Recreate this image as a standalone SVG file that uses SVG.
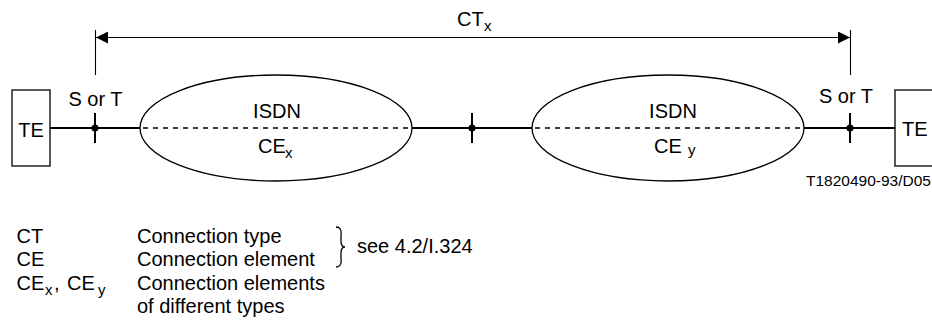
<svg xmlns="http://www.w3.org/2000/svg" width="932" height="324" viewBox="0 0 932 324">
<style>
text{font-family:"Liberation Sans",Arial,sans-serif;font-size:20px;fill:#000}
.sub{font-size:15px}
.small{font-size:15.5px}
.thick{stroke:#000;stroke-width:2;fill:none}
.thin{stroke:#000;stroke-width:1.1;fill:none}
.ell{stroke:#000;stroke-width:1.3;fill:#fff}
.dash{stroke:#000;stroke-width:1.5;stroke-dasharray:5 5;fill:none}
</style>
<defs>
<marker id="ah" viewBox="0 0 12 12" refX="12" refY="6" markerWidth="12" markerHeight="12" markerUnits="userSpaceOnUse" orient="auto-start-reverse">
<path d="M0,0 L12,6 L0,12 Z" fill="#000"/>
</marker>
</defs>
<rect width="932" height="324" fill="#fff"/>
<g id="connectors">
<line class="thick" x1="50" y1="128" x2="140" y2="128"/>
<line class="thick" x1="412" y1="128" x2="532" y2="128"/>
<line class="thick" x1="804" y1="128" x2="895" y2="128"/>
<line class="thin" x1="95.5" y1="30" x2="95.5" y2="75"/>
<line class="thin" x1="850.5" y1="30" x2="850.5" y2="75"/>
<line class="thin" x1="96" y1="37.5" x2="850" y2="37.5" marker-start="url(#ah)" marker-end="url(#ah)"/>
<text x="457" y="26">CT</text><text class="sub" x="484" y="31">x</text>
</g>
<g id="te-left">
<rect x="12" y="90" width="38" height="76" fill="#fff" stroke="#000" stroke-width="1.3"/>
<text x="31" y="136.5" text-anchor="middle">TE</text>
</g>
<g id="ref-left">
<line class="thick" x1="95" y1="113" x2="95" y2="143"/>
<circle cx="95" cy="128" r="3.5" fill="#000"/>
<text x="95.5" y="106" text-anchor="middle">S or T</text>
</g>
<g id="isdn-x">
<ellipse class="ell" cx="276" cy="128" rx="136" ry="53"/>
<line class="dash" x1="143" y1="128" x2="410" y2="128"/>
<text x="277" y="118" text-anchor="middle">ISDN</text>
<text x="258" y="153">CE</text><text class="sub" x="285" y="158">x</text>
</g>
<g id="ref-mid">
<line class="thick" x1="472" y1="113" x2="472" y2="143"/>
<circle cx="472" cy="128" r="3.5" fill="#000"/>
</g>
<g id="isdn-y">
<ellipse class="ell" cx="668" cy="128" rx="136" ry="53"/>
<line class="dash" x1="535" y1="128" x2="802" y2="128"/>
<text x="673" y="118" text-anchor="middle">ISDN</text>
<text x="654" y="153">CE</text><text class="sub" x="688" y="155">y</text>
</g>
<g id="ref-right">
<line class="thick" x1="850" y1="113" x2="850" y2="143"/>
<circle cx="850" cy="128" r="3.5" fill="#000"/>
<text x="846" y="103" text-anchor="middle">S or T</text>
</g>
<g id="te-right">
<rect x="895" y="90" width="40" height="76" fill="#fff" stroke="#000" stroke-width="1.3"/>
<text x="902" y="136">TE</text>
</g>
<text class="small" x="931" y="186" text-anchor="end">T1820490-93/D05</text>
<g id="legend">
<text x="16.5" y="243">CT</text>
<text x="16.5" y="266">CE</text>
<text x="16.5" y="289.5">CE</text><text class="sub" x="45" y="295">x</text><text x="54" y="289.5">,</text><text x="67" y="289.5">CE</text><text class="sub" x="98" y="295">y</text>
<text x="137" y="243">Connection type</text>
<text x="137" y="266">Connection element</text>
<text x="137" y="289.5">Connection elements</text>
<text x="137" y="313">of different types</text>
<path d="M336,227 Q342,227 341,235 L341,241 Q341,247 345,247 Q341,247 341,253 L341,259 Q342,267 336,267" fill="none" stroke="#000" stroke-width="1.3"/>
<text x="357" y="253">see 4.2/I.324</text>
</g>
</svg>
